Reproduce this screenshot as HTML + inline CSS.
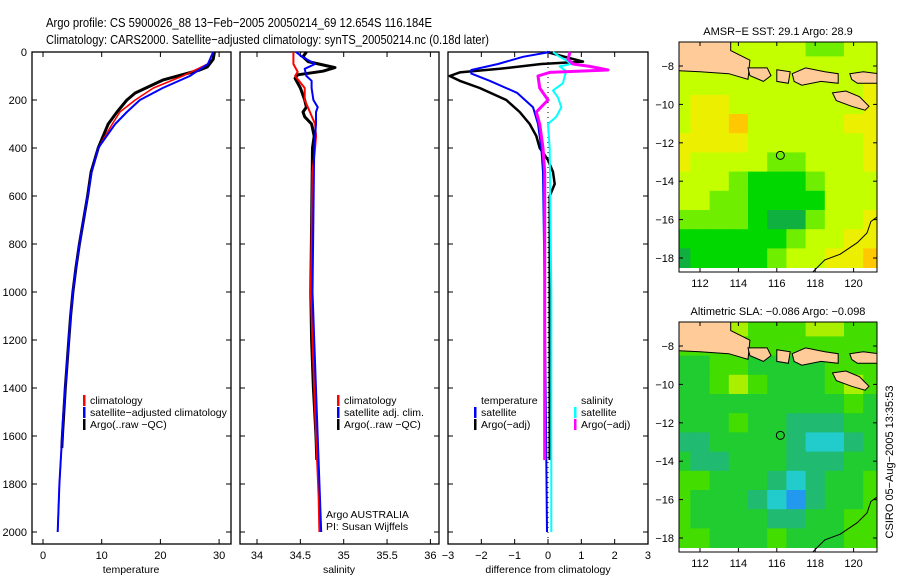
<!DOCTYPE html>
<html><head><meta charset="utf-8"><style>
html,body{margin:0;padding:0;background:#fff;}
svg{display:block;font-family:"Liberation Sans",sans-serif;}
</style></head><body>
<svg id="c" width="900" height="580" viewBox="0 0 900 580" xmlns="http://www.w3.org/2000/svg">
<text x="46" y="27" font-size="13" textLength="386" lengthAdjust="spacingAndGlyphs">Argo profile: CS 5900026_88 13−Feb−2005 20050214_69 12.654S 116.184E</text>
<text x="46" y="44" font-size="13" textLength="443" lengthAdjust="spacingAndGlyphs">Climatology: CARS2000. Satellite−adjusted climatology: synTS_20050214.nc (0.18d later)</text>
<g id="g"></g>
<text transform="translate(893,462) rotate(-90)" font-size="11" text-anchor="middle">CSIRO 05−Aug−2005 13:35:53</text>
</svg>
<script>
// ---------- data ----------
const depthTicks=[0,200,400,600,800,1000,1200,1400,1600,1800,2000];
const tempTicks=[0,10,20,30];
const salTicks=[34,34.5,35,35.5,36];
const salTickLabels=["34","34.5","35","35.5","36"];
const diffTicks=[-3,-2,-1,0,1,2,3];
// temperature profiles
const tClimDepth=[0,50,100,150,200,250,300,400,500,600,700,800,900,1000,1100,1200,1500,1800,2000];
const tClim=[29,28.1,23.8,18.8,15.7,13.1,11.8,9.4,8.3,7.6,6.9,6.2,5.6,5.1,4.7,4.4,3.5,2.8,2.5];
const tSat=[29,28.1,25,20.4,16.5,14.3,12.3,9.4,8.3,7.6,6.9,6.2,5.6,5.1,4.7,4.4,3.5,2.8,2.5];
const tArgoDepth=[0,30,62,75,117,171,200,250,300,400,500,600,700,800,900,1000,1100,1200,1400,1600,1650];
const tArgo=[29.2,29,28,26.7,20.4,15.7,14.3,12.6,11.1,9.4,8.2,7.6,6.9,6.2,5.6,5.1,4.7,4.4,3.8,3.3,3.2];
// salinity profiles
const sClimDepth=[0,50,83,100,150,200,250,300,350,400,500,1000,1500,1850,2000];
const sClim=[34.42,34.42,34.47,34.44,34.55,34.55,34.61,34.67,34.68,34.67,34.64,34.62,34.67,34.71,34.72];
const sSatDepth=[0,20,50,70,100,120,150,200,230,250,300,400,1000,1500,2000];
const sSat=[34.45,34.52,34.67,34.55,34.57,34.63,34.63,34.65,34.7,34.68,34.68,34.66,34.64,34.69,34.74];
const sArgoDepth=[0,20,40,65,80,95,110,150,200,230,250,270,300,350,400,1000,1200,1400,1600,1700];
const sArgo=[34.57,34.53,34.59,34.9,34.76,34.47,34.44,34.5,34.55,34.57,34.53,34.55,34.63,34.66,34.64,34.62,34.63,34.65,34.68,34.69];
// difference profiles
const dTSatDepth=[0,20,50,75,90,120,170,230,300,400,500,1000,2000];
const dTSat=[0.06,-0.75,-1.5,-2.3,-2.3,-1.75,-0.93,-0.45,-0.3,-0.2,-0.15,-0.1,-0.03];
const dTArgoDepth=[0,20,40,50,70,85,100,120,150,200,250,300,350,400,450,500,550,600,1000,1700];
const dTArgo=[-0.03,0.5,1.05,-0.2,-1.45,-2.65,-2.95,-2.65,-2.05,-1.25,-0.85,-0.55,-0.35,-0.25,0,0.15,0.2,0.05,0.05,0.05];
const dSSatDepth=[0,20,35,50,60,80,100,130,160,190,230,270,300,400,1000,2000];
const dSSat=[0.15,0.35,0.55,0.7,0.35,0.55,0.5,0.45,0.15,0.3,0.4,0.25,0,0.05,0.1,0.1];
const dSArgoDepth=[0,30,50,60,75,85,100,150,200,250,300,400,500,1000,1700];
const dSArgo=[0.66,0.6,0.75,1.25,1.8,0.05,-0.3,-0.25,0,-0.35,-0.25,-0.15,-0.1,-0.1,-0.1];
// maps: 1-degree cells, rows lat -7..-18, cols lon 111..121
const mapLats=[-7,-8,-9,-10,-11,-12,-13,-14,-15,-16,-17,-18];
const mapLons=[111,112,113,114,115,116,117,118,119,120,121];
const sstLevels=[
[3,3,3,3,3,3,3,2,2,3,3],[3,3,3,3,3,3,3,3,3,3,3],[3,3,3,3,3,3,3,3,3,3,4],[3,4,4,3,3,3,3,3,3,3,4],
[3,4,4,5,3,3,3,3,3,4,4],[4,4,4,4,3,3,3,3,3,3,4],[4,3,3,3,3,2,2,3,3,3,4],[3,3,3,2,1,1,1,2,3,3,3],
[3,3,2,2,1,1,1,1,3,3,3],[2,2,2,2,1,0,0,2,3,3,4],[1,1,1,1,1,1,2,3,3,4,4],[0,1,1,1,1,2,3,3,4,4,5]];
const slaLevels=[
[4,4,5,5,4,4,4,5,5,4,4],[4,4,4,4,4,4,4,4,4,4,4],[3,3,4,4,3,3,3,3,4,4,4],[3,3,4,5,4,3,3,3,4,5,4],
[3,3,3,3,3,3,3,3,3,4,3],[3,3,3,4,3,3,2,2,2,3,3],[2,2,3,3,3,3,2,1,1,2,3],[3,2,2,3,3,3,2,2,2,3,3],
[4,4,3,3,3,2,1,2,3,3,4],[4,3,3,3,2,1,0,2,3,3,4],[4,3,3,3,3,2,2,3,3,4,4],[4,4,3,3,3,4,3,3,3,4,4]];
const sstColors=["#10b040","#00d800","#70ee00","#c4ff00","#ecf000","#ffc800"];
const slaColors=["#2299ee","#22cccc","#20bb70","#20cc30","#44dd00","#aaee00"];
const mapLonTicks=[112,114,116,118,120];
const mapLatTicks=[-8,-10,-12,-14,-16,-18];
const argoLon=116.184, argoLat=-12.654;

// ---------- helpers ----------
const NS="http://www.w3.org/2000/svg";
const G=document.getElementById('g');
function el(t,a,p){const e=document.createElementNS(NS,t);for(const k in a)e.setAttribute(k,a[k]);(p||G).appendChild(e);return e;}
const Y0=52,Y1=544;
const yD=d=>52+d*0.24;
const panels=[
 {x0:32,x1:231,sx:v=>43+v*5.87,name:'temperature'},
 {x0:240,x1:439,sx:v=>257+(v-34)*86.7,name:'salinity'},
 {x0:448,x1:648,sx:v=>548+v*33.33,name:'difference'}];

panels.forEach((p,i)=>{
 const b=el('rect',{x:p.x0,y:Y0,width:p.x1-p.x0,height:Y1-Y0,fill:'none',stroke:'#000','stroke-width':1.3});
 
 
 depthTicks.forEach(d=>{
  el('line',{x1:p.x0,x2:p.x0+5,y1:yD(d),y2:yD(d),stroke:'#000'});
  el('line',{x1:p.x1,x2:p.x1-5,y1:yD(d),y2:yD(d),stroke:'#000'});
 });
});
depthTicks.forEach(d=>{
 const t=el('text',{x:27,y:yD(d)+4,'font-size':11,'text-anchor':'end'});t.textContent=d;
 
 
});
function xTicks(p,vals,labels){
 vals.forEach((v,i)=>{
  const x=p.sx(v);
  el('line',{x1:x,x2:x,y1:Y0,y2:Y0+5,stroke:'#000'});
  el('line',{x1:x,x2:x,y1:Y1,y2:Y1-5,stroke:'#000'});
  const t=el('text',{x:x,y:559,'font-size':11,'text-anchor':'middle'});t.textContent=labels?labels[i]:String(v).replace('-','−');
  
  
 });
}
xTicks(panels[0],tempTicks);xTicks(panels[1],salTicks,salTickLabels);xTicks(panels[2],diffTicks);
[['temperature',131],['salinity',339],['difference from climatology',548]].forEach(([s,x])=>{
 const t=el('text',{x:x,y:573,'font-size':10.5,'text-anchor':'middle'});t.textContent=s;
 
 
});
function line(p,depths,vals,color,w,name){
 const pts=depths.map((d,i)=>p.sx(vals[i]).toFixed(1)+','+yD(d).toFixed(1)).join(' ');
 const e=el('polyline',{points:pts,fill:'none',stroke:color,'stroke-width':w,'stroke-linejoin':'round'});
 
 
}
line(panels[0],tArgoDepth,tArgo,'#000',3,'temp-argo-line');
line(panels[0],tClimDepth,tClim,'#f00',1.6,'temp-climatology-line');
line(panels[0],tClimDepth,tSat,'#00f',2,'temp-satellite-line');
line(panels[1],sArgoDepth,sArgo,'#000',3,'sal-argo-line');
line(panels[1],sClimDepth,sClim,'#f00',2,'sal-climatology-line');
line(panels[1],sSatDepth,sSat,'#00f',2,'sal-satellite-line');
el('line',{x1:548,x2:548,y1:Y0,y2:Y1,stroke:'#000','stroke-dasharray':'1,4'});
line(panels[2],dTArgoDepth,dTArgo,'#000',2.5,'diff-temp-argo-line');
line(panels[2],dTSatDepth,dTSat,'#00f',2,'diff-temp-satellite-line');
line(panels[2],dSSatDepth,dSSat,'#00ffff',2,'diff-sal-satellite-line');
line(panels[2],dSArgoDepth,dSArgo,'#ff00ff',3,'diff-sal-argo-line');

function legend(x,y,items,name){
 items.forEach((it,i)=>{
  const yy=y+i*12;
  if(it[1]){el('rect',{x:x,y:yy-9,width:2.5,height:11,fill:it[1]});}
  const t=el('text',{x:x+7,y:yy,'font-size':10.5});t.textContent=it[0];
  
  
 });
}
legend(83,404,[['climatology','#f00'],['satellite−adjusted climatology','#00f'],['Argo(..raw −QC)','#000']],'temp-legend');
legend(337,404,[['climatology','#f00'],['satellite adj. clim.','#00f'],['Argo(..raw −QC)','#000']],'sal-legend');
legend(474,404,[['temperature',null],['satellite','#00f'],['Argo(−adj)','#000']],'diff-temp-legend');
legend(574,404,[['salinity',null],['satellite','#00ffff'],['Argo(−adj)','#ff00ff']],'diff-sal-legend');
[['Argo AUSTRALIA',518],['PI: Susan Wijffels',530]].forEach(([s,y])=>{
 const t=el('text',{x:326,y:y,'font-size':10.5});t.textContent=s;
 
 
});

// ---------- maps ----------
function drawMap(top,levels,colors,title,name,showLonLabels){
 const L=679,R=877,T=top,B=top+230;
 const lx=lon=>700+(lon-112)*19.2;
 const ly=lat=>T+24+(-8-lat)*19.2;
 const clip='clip-'+name;
 const cp=el('clipPath',{id:clip});el('rect',{x:L,y:T,width:R-L,height:B-T},cp);
 const g=el('g',{'clip-path':'url(#'+clip+')'});
 
 
 mapLats.forEach((lat,r)=>mapLons.forEach((lon,c)=>{
  const x=lx(lon-0.5),y=ly(lat+0.5);
  const cell=el('rect',{x:x,y:y,width:19.6,height:19.6,fill:colors[levels[r][c]]},g);
  
  
 }));
 const P=a=>a.map(q=>lx(q[0]).toFixed(1)+','+ly(q[1]).toFixed(1)).join(' ');
 const land=[
  [[110,-6],[113.6,-6],[113.6,-7.2],[114.6,-7.7],[114.5,-8.7],[113.5,-8.4],[112,-8.3],[110,-8.2]],
  [[114.5,-8.1],[115.5,-8.1],[115.7,-8.5],[115.3,-8.8],[114.6,-8.5]],
  [[116.0,-8.2],[116.7,-8.3],[116.6,-8.9],[116.0,-8.8]],
  [[116.8,-8.4],[117.5,-8.1],[118.5,-8.3],[119.2,-8.4],[119.2,-8.9],[118.3,-8.8],[117.3,-9.0],[116.9,-8.8]],
  [[119.8,-8.4],[120.5,-8.3],[121.3,-8.4],[121.3,-8.9],[120.2,-8.9],[119.9,-8.7]],
  [[118.9,-9.4],[119.6,-9.3],[120.3,-9.6],[120.8,-10.1],[120.6,-10.3],[119.9,-10.1],[119.1,-9.8]]];
 land.forEach(poly=>{
  const e=el('polygon',{points:P(poly),fill:'#ffcc99',stroke:'#000','stroke-width':1},g);
  
  
 });
 const coast=el('polyline',{points:P([[121.3,-15.8],[120.9,-16.1],[120.7,-16.7],[120.2,-17.2],[119.3,-17.8],[118.5,-18.1],[117.8,-18.8]]),fill:'none',stroke:'#000','stroke-width':1},g);
 
 
 const c=el('circle',{cx:lx(argoLon),cy:ly(argoLat),r:4,fill:'none',stroke:'#000','stroke-width':1});
 
 
 el('rect',{x:L,y:T,width:R-L,height:B-T,fill:'none',stroke:'#000','stroke-width':1});
 mapLonTicks.forEach(v=>{
  el('line',{x1:lx(v),x2:lx(v),y1:T,y2:T+4,stroke:'#000'});
  el('line',{x1:lx(v),x2:lx(v),y1:B,y2:B-4,stroke:'#000'});
  if(showLonLabels){
   const t=el('text',{x:lx(v),y:B+15,'font-size':11,'text-anchor':'middle'});t.textContent=v;
   
   
  }
 });
 mapLatTicks.forEach(v=>{
  el('line',{x1:L,x2:L+4,y1:ly(v),y2:ly(v),stroke:'#000'});
  el('line',{x1:R,x2:R-4,y1:ly(v),y2:ly(v),stroke:'#000'});
  const t=el('text',{x:674,y:ly(v)+4,'font-size':11,'text-anchor':'end'});t.textContent=String(v).replace('-','−');
  
  
 });
 const tt=el('text',{x:778,y:T-7,'font-size':11,'text-anchor':'middle'});tt.textContent=title;
 
 
}
drawMap(42,sstLevels,sstColors,'AMSR−E SST: 29.1 Argo: 28.9','sst',true);
drawMap(322,slaLevels,slaColors,'Altimetric SLA: −0.086 Argo: −0.098','sla',true);
</script>
</body></html>
